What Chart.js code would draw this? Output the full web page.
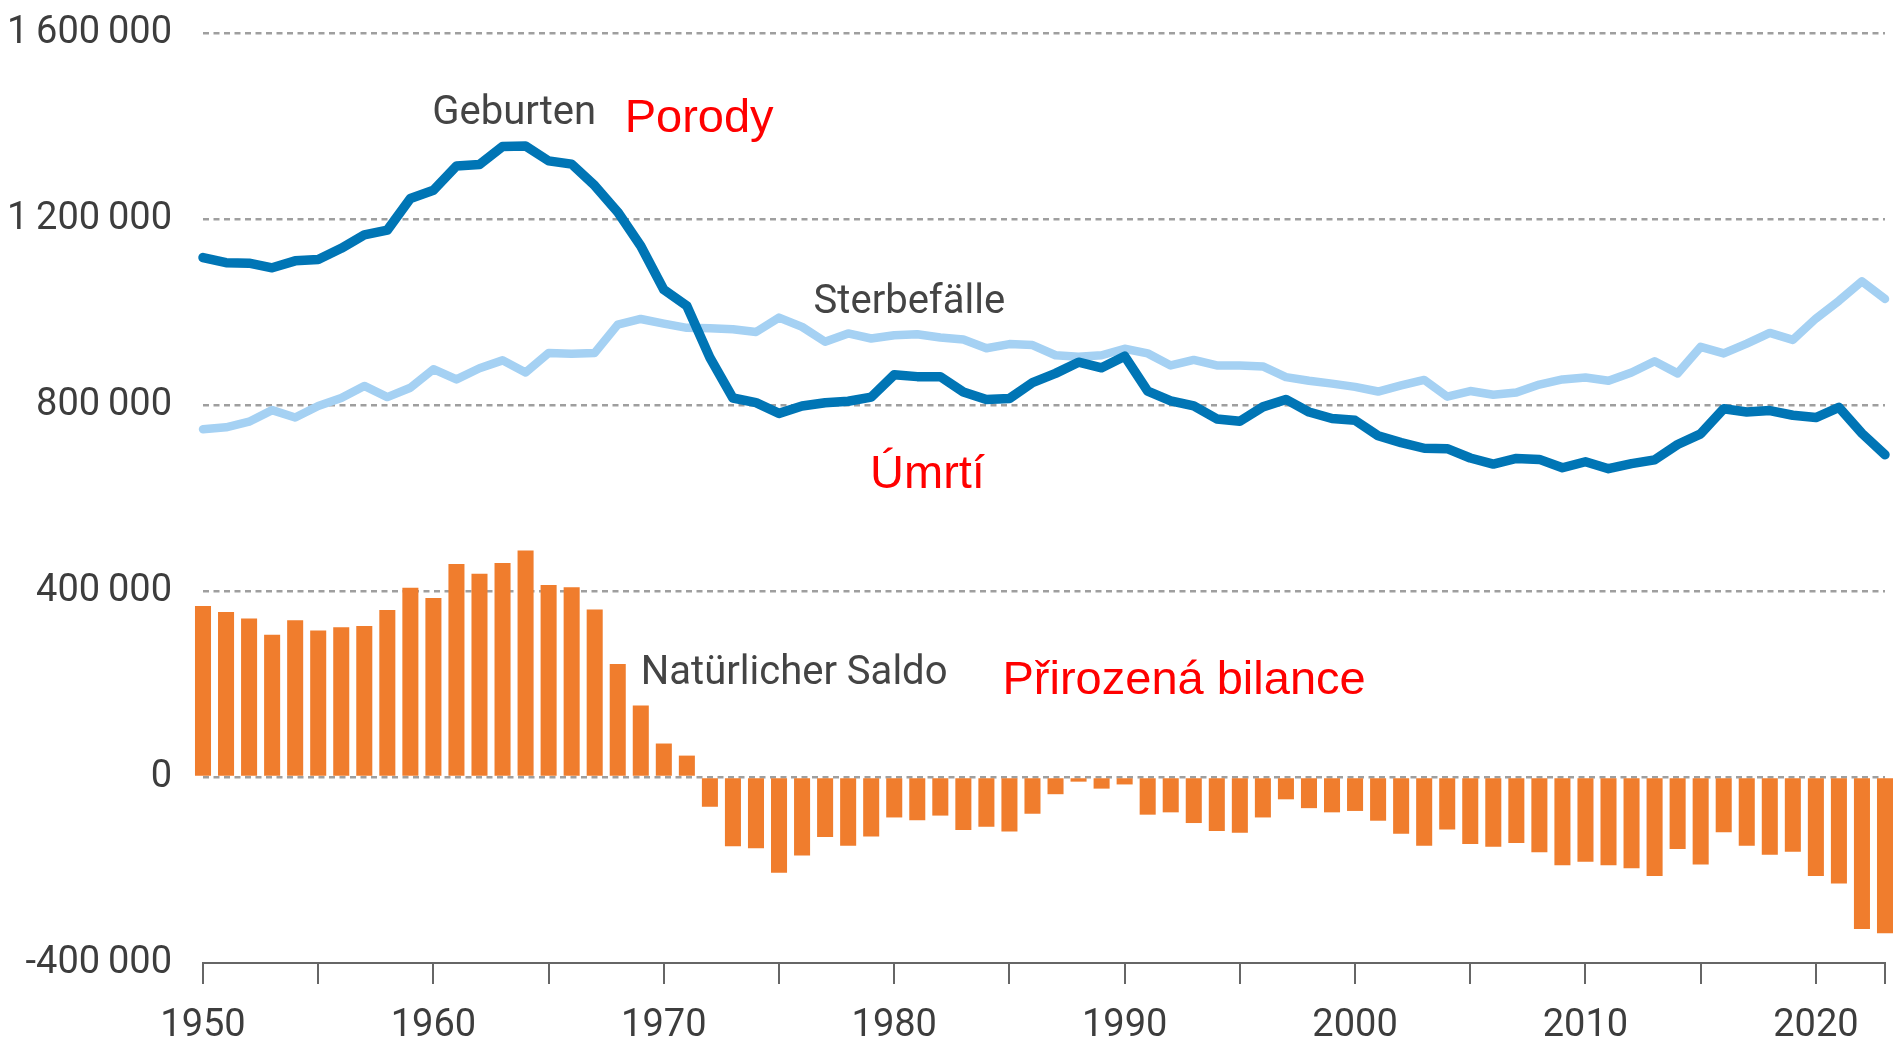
<!DOCTYPE html>
<html>
<head>
<meta charset="utf-8">
<script src="https://cdn.jsdelivr.net/npm/chart.js@4.4.1/dist/chart.umd.min.js"></script>
<style>
  body { margin: 0; background: #fff; }
  #wrap { width: 1893px; height: 1045px; position: relative; }
</style>
</head>
<body>
<div id="wrap"><canvas id="popChart"></canvas></div>
<script>
// Jahre 1950 - 2023
let years = [
  1950, 1951, 1952, 1953, 1954, 1955, 1956, 1957, 1958, 1959,
  1960, 1961, 1962, 1963, 1964, 1965, 1966, 1967, 1968, 1969,
  1970, 1971, 1972, 1973, 1974, 1975, 1976, 1977, 1978, 1979,
  1980, 1981, 1982, 1983, 1984, 1985, 1986, 1987, 1988, 1989,
  1990, 1991, 1992, 1993, 1994, 1995, 1996, 1997, 1998, 1999,
  2000, 2001, 2002, 2003, 2004, 2005, 2006, 2007, 2008, 2009,
  2010, 2011, 2012, 2013, 2014, 2015, 2016, 2017, 2018, 2019,
  2020, 2021, 2022, 2023,
];

// Geburten
let births = [
  1117000, 1106000, 1105000, 1095000, 1110000, 1113000, 1137000, 1166000, 1176000, 1244000,
  1262000, 1314000, 1317000, 1356000, 1357000, 1325000, 1318000, 1272000, 1215000, 1142000,
  1048000, 1013000, 902000, 815000, 805000, 782000, 798000, 805000, 808000, 817000,
  865000, 861000, 861000, 828000, 812000, 814000, 848000, 868000, 892000, 880000,
  905000, 830000, 809000, 798000, 770000, 765000, 796000, 812000, 785000, 771000,
  767000, 734000, 719000, 707000, 706000, 686000, 673000, 685000, 683000, 665000,
  678000, 663000, 674000, 682000, 715000, 738000, 792000, 785000, 788000, 778000,
  773000, 795000, 739000, 693000,
];

// Sterbefaelle
let deaths = [
  748000, 752000, 764000, 789000, 773000, 798000, 815000, 841000, 817000, 837000,
  877000, 855000, 879000, 896000, 870000, 912000, 910000, 912000, 973000, 985000,
  975000, 966000, 965000, 963000, 957000, 988000, 968000, 936000, 954000, 943000,
  950000, 952000, 945000, 941000, 922000, 931000, 929000, 907000, 904000, 907000,
  921000, 911000, 885000, 897000, 885000, 885000, 883000, 860000, 852000, 846000,
  839000, 829000, 842000, 854000, 818000, 830000, 822000, 827000, 844000, 855000,
  859000, 852000, 870000, 894000, 868000, 925000, 911000, 932000, 955000, 940000,
  986000, 1024000, 1066000, 1028000,
];

// Natuerlicher Saldo
let balance = [
  368000, 355000, 341000, 306000, 337000, 315000, 322000, 325000, 359000, 407000,
  385000, 458000, 437000, 460000, 487000, 413000, 408000, 360000, 243000, 154000,
  72000, 46000, -64000, -149000, -153000, -206000, -169000, -129000, -148000, -128000,
  -87000, -93000, -83000, -114000, -107000, -117000, -79000, -37000, -10000, -25000,
  -16000, -81000, -76000, -99000, -116000, -120000, -87000, -48000, -67000, -76000,
  -73000, -94000, -122000, -148000, -113000, -144000, -150000, -142000, -162000, -190000,
  -182000, -190000, -196000, -213000, -155000, -188000, -119000, -148000, -167000, -161000,
  -213000, -229000, -327000, -336000,
];

let yTicks = [-400000, 0, 400000, 800000, 1200000, 1600000];

// Beschriftungen im Diagramm (Jahr, Wert)
let notes = [
  { text: "Geburten", year: 1959.95, value: 1404000, red: false },
  { text: "Porody", year: 1968.3, value: 1388000, red: true },
  { text: "Sterbefälle", year: 1976.5, value: 998000, red: false },
  { text: "Úmrtí", year: 1978.95, value: 621000, red: true },
  { text: "Natürlicher Saldo", year: 1969.0, value: 199000, red: false },
  { text: "Přirozená bilance", year: 1984.7, value: 179000, red: true },
];

function fmt(v) {
  return String(v).replace(/\B(?=(\d{3})+(?!\d))/g, "\u2009");
}

let notesPlugin = {
  id: "notes",
  afterDatasetsDraw(chart) {
    let ctx = chart.ctx;
    let xs = chart.scales.x;
    let ys = chart.scales.y;
    ctx.save();
    ctx.textAlign = "left";
    ctx.textBaseline = "alphabetic";
    notes.forEach((n) => {
      if (n.red) {
        ctx.font = "47px 'Liberation Sans', Arial, sans-serif";
        ctx.fillStyle = "#ff0000";
      } else {
        ctx.font = "40px Roboto, sans-serif";
        ctx.fillStyle = "#444444";
      }
      ctx.fillText(n.text, xs.getPixelForValue(n.year - years[0]), ys.getPixelForValue(n.value));
    });
    ctx.restore();
  },
};

new Chart(document.getElementById("popChart"), {
  type: "bar",
  data: {
    labels: years,
    datasets: [
      {
        type: "line",
        label: "Geburten",
        data: births,
        borderColor: "#0075b5",
        borderWidth: 9.5,
        pointRadius: 0,
        tension: 0,
        borderJoinStyle: "round",
        borderCapStyle: "round",
        clip: false,
        order: 1,
      },
      {
        type: "line",
        label: "Sterbefälle",
        data: deaths,
        borderColor: "#a5d1f3",
        borderWidth: 8.5,
        pointRadius: 0,
        tension: 0,
        borderJoinStyle: "round",
        borderCapStyle: "round",
        clip: false,
        order: 2,
      },
      {
        label: "Natürlicher Saldo",
        data: balance,
        backgroundColor: "#f07d2d",
        categoryPercentage: 0.8,
        barPercentage: 0.87,
        clip: false,
        order: 3,
      },
    ],
  },
  options: {
    responsive: true,
    maintainAspectRatio: false,
    animation: false,
    layout: {
      padding: { top: 33, right: 8, left: 0, bottom: 0 },
    },
    plugins: {
      legend: { display: false },
      tooltip: { enabled: false },
    },
    scales: {
      x: {
        offset: false,
        grid: {
          offset: false,
          drawOnChartArea: false,
          drawTicks: true,
          tickLength: 21,
          lineWidth: 2,
          color: (c) => {
            let yr = years[c.index];
            return yr % 5 === 0 || c.index === years.length - 1 ? "#666666" : "rgba(0,0,0,0)";
          },
        },
        border: { display: true, color: "#666666", width: 2 },
        ticks: {
          autoSkip: false,
          maxRotation: 0,
          padding: 20,
          color: "#3d3d3d",
          font: { family: "Roboto", size: 38 },
          callback: function (value, index) {
            return years[index] % 10 === 0 ? String(years[index]) : "";
          },
        },
        afterFit: (scale) => {
          scale.height = 82;
          scale.paddingLeft = 0;
          scale.paddingRight = 0;
        },
      },
      y: {
        min: yTicks[0],
        max: yTicks[yTicks.length - 1],
        afterBuildTicks: (scale) => {
          scale.ticks = yTicks.map((v) => ({ value: v }));
        },
        grid: {
          drawTicks: false,
          lineWidth: 2.5,
          color: (c) => (c.tick && c.tick.value === yTicks[0] ? "rgba(0,0,0,0)" : "#9f9f9f"),
        },
        border: { display: false, dash: [6, 4.5] },
        ticks: {
          padding: 31,
          color: "#3d3d3d",
          font: { family: "Roboto", size: 38 },
          callback: (value) => fmt(value),
        },
        afterFit: (scale) => {
          scale.width = 203;
          scale.paddingTop = 0;
          scale.paddingBottom = 0;
        },
      },
    },
  },
  plugins: [notesPlugin],
});
</script>
</body>
</html>
